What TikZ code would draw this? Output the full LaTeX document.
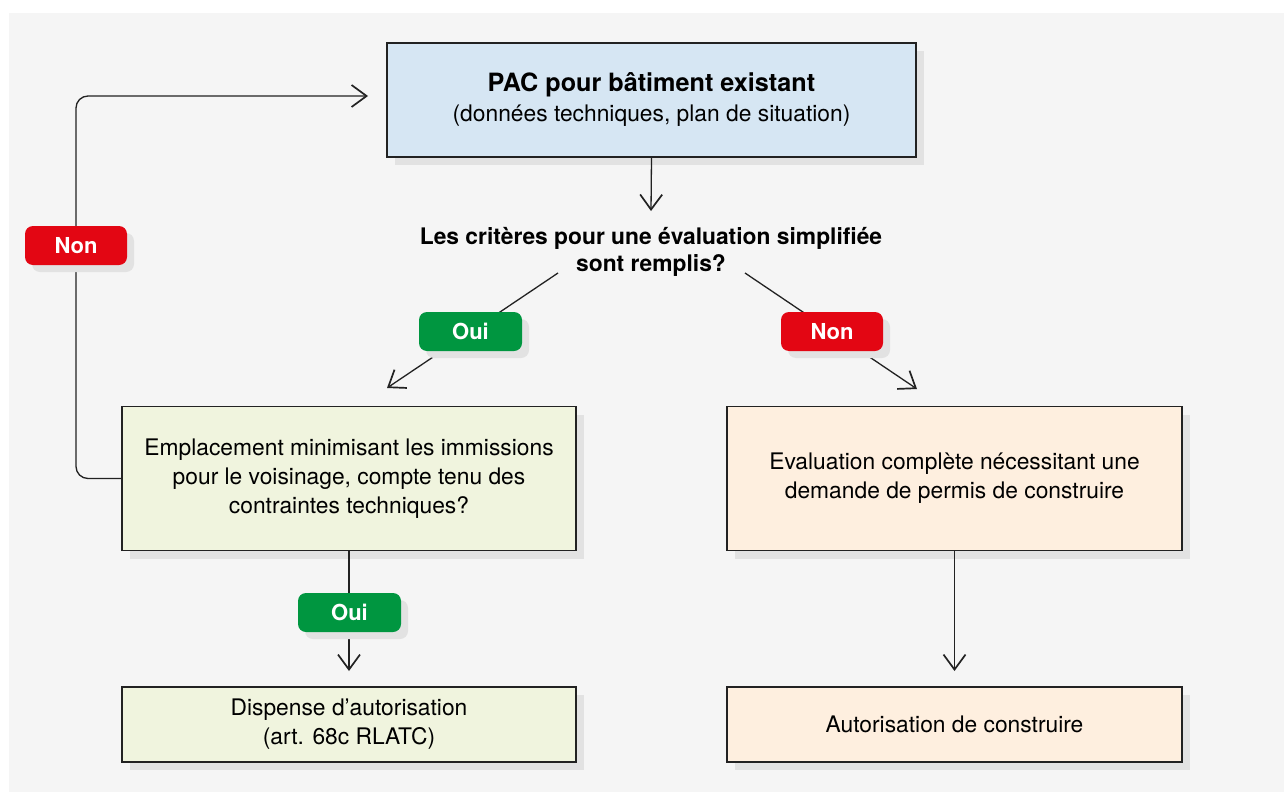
\documentclass[tikz,border=0pt]{standalone}
\usepackage{fontspec}
\setmainfont{TeX Gyre Heros}
\usetikzlibrary{arrows.meta,shadows}
\definecolor{bg}{HTML}{F5F5F5}
\definecolor{shade}{HTML}{E2E2E2}
\definecolor{bluebox}{HTML}{D6E6F3}
\definecolor{greenbox}{HTML}{F0F4DE}
\definecolor{orangebox}{HTML}{FEEFDF}
\definecolor{nonred}{HTML}{E30613}
\definecolor{ouigreen}{HTML}{009640}
\definecolor{ink}{HTML}{222222}
\tikzset{
  box/.style={draw=ink, line width=1.3pt, inner sep=0pt, align=center,
    font=\fontsize{22.8}{29}\selectfont,
    drop shadow={shadow xshift=8pt, shadow yshift=-8pt, fill=shade, opacity=1}},
  tag/.style={rounded corners=8pt, inner sep=0pt, minimum width=102pt, minimum height=39pt,
    text=white, font=\bfseries\fontsize{22}{26}\selectfont,
    drop shadow={shadow xshift=7pt, shadow yshift=-7pt, fill=shade, opacity=1}},
  flow/.style={draw=ink, line width=1.3pt, -{Straight Barb[length=15pt,width=22pt,line width=1.7pt]}},
  link/.style={draw=ink, line width=1.3pt},
}
\begin{document}
\begin{tikzpicture}[x=1pt,y=-1pt]
\fill[white] (0,0) rectangle (1284,792);
\fill[bg] (9,13) rectangle (1284,792);
\useasboundingbox (0,0) rectangle (1284,792);

% boxes
\node[box, fill=bluebox, minimum width=529pt, minimum height=114pt] (top) at (651.5,100)
  {{\bfseries\fontsize{25.2}{30}\selectfont PAC pour bâtiment existant}\\[1pt](données techniques, plan de situation)};
\node[box, fill=greenbox, minimum width=454pt, minimum height=144pt] (L) at (349,478.5)
  {Emplacement minimisant les immissions\\pour le voisinage, compte tenu des\\contraintes techniques?};
\node[box, fill=orangebox, minimum width=455pt, minimum height=144pt] (R) at (954.5,478.5)
  {Evaluation complète nécessitant une\\demande de permis de construire};
\node[box, fill=greenbox, minimum width=454pt, minimum height=75pt] (LB) at (349,724.5)
  {Dispense d’autorisation\\(art. 68c RLATC)};
\node[box, fill=orangebox, minimum width=455pt, minimum height=75pt] (RB) at (954.5,724.5)
  {Autorisation de construire};

% decision text
\node[font=\bfseries\fontsize{22.8}{27}\selectfont, align=center, inner sep=0pt] (q1) at (651,252)
  {Les critères pour une évaluation simplifiée\\sont remplis?};

% coordinates
\coordinate (q1in) at (651,211);
\coordinate (q1l) at (558,273);
\coordinate (q1r) at (745,273);
\coordinate (tipl) at (387,388);
\coordinate (tipr) at (917,389);
\coordinate (loopT) at (76,96);
\coordinate (topin) at (368,96);
\coordinate (tipLB) at (349,671);
\coordinate (tipRB) at (954.5,671);

% connectors
\draw[flow] (top.south) -- (q1in);
\draw[flow] (q1l) -- (tipl);
\draw[flow] (q1r) -- (tipr);
\draw[flow, rounded corners=12pt] (L.west) -| (loopT) -- (topin);
\draw[flow] (L.south) -- (tipLB);
\draw[flow] (R.south) -- (tipRB);

% labels
\node[tag, fill=nonred] (non1) at (76,245.5) {Non};
\node[tag, fill=ouigreen, minimum width=103pt] (oui1) at (470.5,331.5) {Oui};
\node[tag, fill=nonred] (non2) at (832,331.5) {Non};
\node[tag, fill=ouigreen, minimum width=103pt] (oui2) at (349.5,612.5) {Oui};
\end{tikzpicture}
\end{document}
